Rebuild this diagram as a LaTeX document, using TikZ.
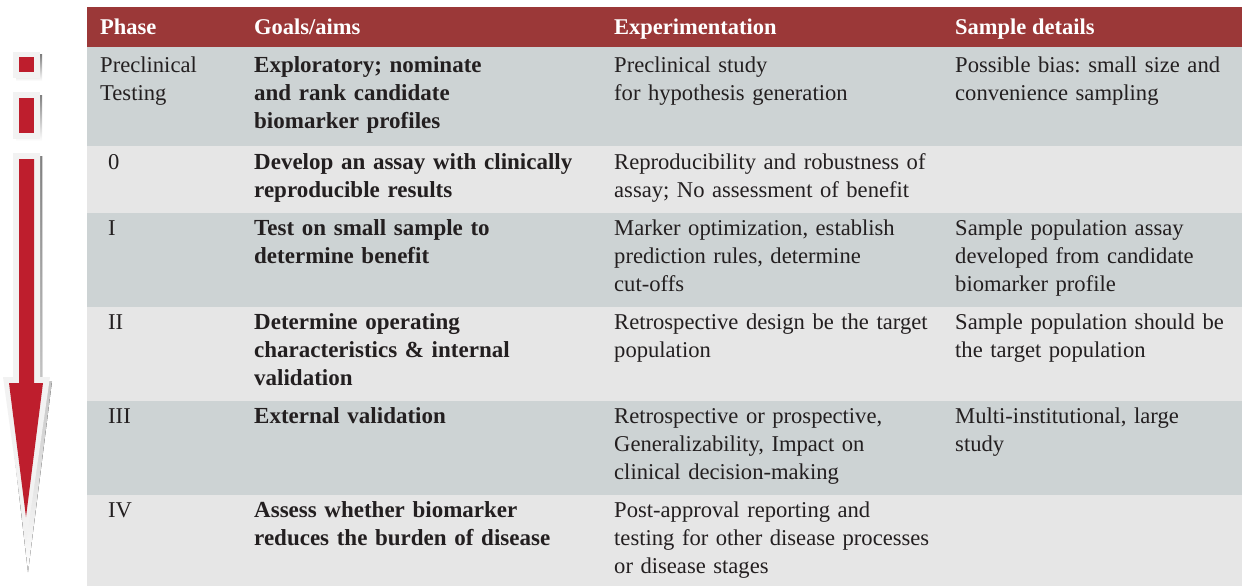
\documentclass[tikz,border=0pt]{standalone}
\usepackage{tikz,fontspec}
\setmainfont{Liberation Serif}
\usetikzlibrary{positioning}
\definecolor{hdred}{HTML}{9B3838}
\definecolor{rowdark}{HTML}{CDD3D4}
\definecolor{rowlight}{HTML}{E6E6E6}
\definecolor{arrred}{HTML}{BE1E2D}
\definecolor{halo}{HTML}{F2F2F2}
\definecolor{shade}{HTML}{A67A78}
\definecolor{ink}{HTML}{231F20}
\newcommand{\cellfont}{\fontsize{22.6}{28}\selectfont\frenchspacing}
\newcommand{\goalfont}{\fontsize{23}{28}\selectfont\frenchspacing\bfseries}

\begin{document}
\begin{tikzpicture}[
        x=1pt, y=-1pt,
        cell/.style = {anchor=base west, inner sep=0pt, align=left, text=ink, font=\cellfont},
        goal/.style = {cell, font=\goalfont, text width=350pt},
        expt/.style = {cell, text width=335pt},
        smpl/.style = {cell, text width=285pt},
        phs/.style = {cell, text width=140pt},
        head/.style = {anchor=base west, inner sep=0pt, text=white, font=\fontsize{22.5}{27}\selectfont\bfseries},
        darkrow/.style = {fill=rowdark},
        lightrow/.style = {fill=rowlight}
        ]
        \useasboundingbox (0,0) rectangle (1242,586);
        % table background
        \fill[hdred] (87,7) rectangle (1242,47);
        \fill[darkrow] (87,47) rectangle (1242,146);
        \fill[lightrow] (87,146) rectangle (1242,213);
        \fill[darkrow] (87,213) rectangle (1242,307);
        \fill[lightrow] (87,307) rectangle (1242,401);
        \fill[darkrow] (87,401) rectangle (1242,495);
        \fill[lightrow] (87,495) rectangle (1242,586);

        % arrow on the left
        \fill[shade] (16,55) rectangle (42,81);
        \fill[halo] (13,52) rectangle (40,78);
        \fill[arrred] (19,57) rectangle (34,72);
        \fill[shade] (16,95) rectangle (42,141);
        \fill[halo] (13,92) rectangle (40,139);
        \fill[arrred] (19,98) rectangle (34,133);
        \fill[shade] (16,156) -- (42,156) -- (42,381) -- (52,381) -- (28,572) -- (6,381) -- (16,381) -- cycle;
        \fill[halo] (13,153) -- (40,153) -- (40,377) -- (50,377) -- (26,543) -- (3,377) -- (13,377) -- cycle;
        \fill[arrred] (19,159) -- (34,159) -- (34,383) -- (43,383) -- (26,517) -- (9,383) -- (19,383) -- cycle;

        % header
        \node[head] (hphase) at (100,35) {Phase};
        \node[head] (hgoals) at (254,35) {Goals/aims};
        \node[head] (hexpt) at (614,35) {Experimentation};
        \node[head] (hsmpl) at (955,35) {Sample details};

        % preclinical
        \node[phs] (phP) at (100,73) {Preclinical\\Testing};
        \node[goal] (goalP) at (254,73) {Exploratory; nominate\\and rank candidate\\biomarker profiles};
        \node[expt] (exptP) at (614,73) {Preclinical study\\for hypothesis generation};
        \node[smpl] (smplP) at (955,73) {Possible bias: small size and\\convenience sampling};

        % phase 0
        \node[phs] (ph0) at (108,169) {0};
        \node[goal] (goal0) at (254,169) {Develop an assay with clinically\\reproducible results};
        \node[expt] (expt0) at (614,169) {Reproducibility and robustness of\\assay; No assessment of benefit};

        % phase I
        \node[phs] (ph1) at (108,235) {I};
        \node[goal] (goal1) at (254,235) {Test on small sample to\\determine benefit};
        \node[expt] (expt1) at (614,235) {Marker optimization, establish\\prediction rules, determine\\cut-offs};
        \node[smpl] (smpl1) at (955,235) {Sample population assay\\developed from candidate\\biomarker profile};

        % phase II
        \node[phs] (ph2) at (108,329) {II};
        \node[goal] (goal2) at (254,329) {Determine operating\\characteristics \& internal\\validation};
        \node[expt] (expt2) at (614,329) {Retrospective design be the target\\population};
        \node[smpl] (smpl2) at (955,329) {Sample population should be\\the target population};

        % phase III
        \node[phs] (ph3) at (108,423) {III};
        \node[goal] (goal3) at (254,423) {External validation};
        \node[expt] (expt3) at (614,423) {Retrospective or prospective,\\Generalizability, Impact on\\clinical decision-making};
        \node[smpl] (smpl3) at (955,423) {Multi-institutional, large\\study};

        % phase IV
        \node[phs] (ph4) at (108,517) {IV};
        \node[goal] (goal4) at (254,517) {Assess whether biomarker\\reduces the burden of disease};
        \node[expt] (expt4) at (614,517) {Post-approval reporting and\\testing for other disease processes\\or disease stages};
\end{tikzpicture}
\end{document}
